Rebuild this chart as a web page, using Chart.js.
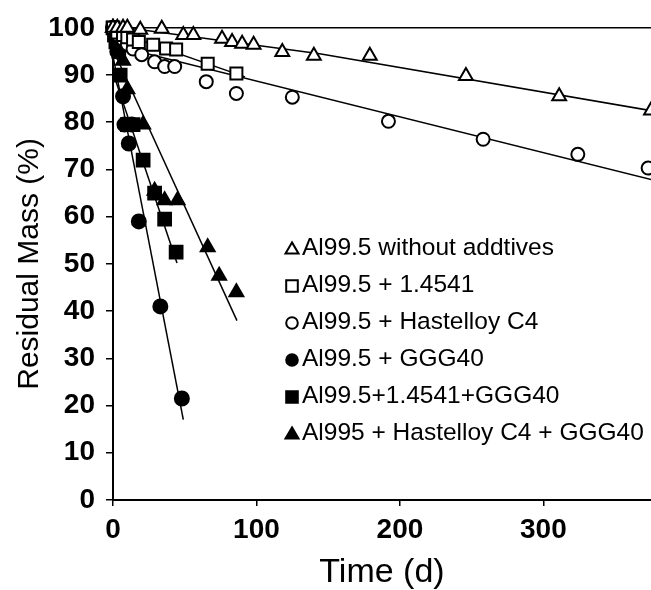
<!DOCTYPE html>
<html>
<head>
<meta charset="utf-8">
<script src="https://cdn.jsdelivr.net/npm/chart.js@4.4.1/dist/chart.umd.min.js"></script>
<style>
  html, body { margin: 0; padding: 0; background: #fff; }
  #wrap { width: 651px; height: 590px; }
</style>
</head>
<body>
<div id="wrap"><canvas id="c" width="651" height="590"></canvas></div>
<script>
// Residual mass of Al99.5 samples over time, with and without additives.
const seriesLabels = [
  'Al99.5 without addtives',
  'Al99.5 + 1.4541',
  'Al99.5 + Hastelloy C4',
  'Al99.5 + GGG40',
  'Al99.5+1.4541+GGG40',
  'Al995 + Hastelloy C4 + GGG40'
];

// measured points: time (d) / residual mass (%)
const noAddT   = [0, 3, 7, 10, 19, 34, 49, 56, 76, 83, 90, 98, 118, 140, 179, 246, 311, 375];
const noAddM   = [100, 100, 100, 100, 99.6, 99.8, 98.5, 98.5, 97.7, 97.0, 96.6, 96.4, 94.9, 94.1, 94.1, 89.8, 85.5, 82.5];

const ss1T     = [0, 3, 7, 10, 14, 18, 28, 37, 44, 66, 86];
const ss1M     = [100, 99, 98.5, 98, 97.5, 97, 96.4, 95.6, 95.4, 92.4, 90.3];

const hastT    = [0, 3, 7, 10, 14, 20, 29, 36, 43, 65, 86, 125, 192, 258, 324, 373];
const hastM    = [100, 98.5, 97.5, 96.5, 95.5, 94.3, 92.8, 91.8, 91.8, 88.6, 86.1, 85.3, 80.2, 76.4, 73.2, 70.3];

const gggT     = [0, 3, 7, 8, 11, 13, 18, 33, 48];
const gggM     = [100, 95, 85.5, 79.5, 75.5, 79.5, 59, 41, 21.5];

const ssGggT   = [0, 1, 2, 4, 5, 10, 14, 21, 29, 36, 44];
const ssGggM   = [100, 98.5, 97, 95, 90, 79.5, 79.5, 72, 65, 59.5, 52.5];

const hastGggT = [0, 2, 4, 7, 10, 21, 29, 36, 45, 66, 74, 86];
const hastGggM = [100, 98, 96, 93, 87, 79.5, 65.5, 63.5, 63.5, 53.5, 47.5, 44];

// fitted trend lines
const fitNoAddT   = [9, 144, 380];   const fitNoAddM   = [100, 94.5, 82.2];
const fitSs1T     = [0, 92];         const fitSs1M     = [99.4, 89.6];
const fitHastT    = [0, 380];        const fitHastM    = [96.3, 67.5];
const fitGggT     = [0, 49];         const fitGggM     = [94, 17];
const fitSsGggT   = [0, 44.6];       const fitSsGggM   = [90.5, 50.2];
const fitHastGggT = [0, 86.4];       const fitHastGggM = [95.4, 38];

// axis ticks
const xTicks = [0, 100, 200, 300];
const yTicks = [0, 10, 20, 30, 40, 50, 60, 70, 80, 90, 100];

const FONT = '"Liberation Sans", Arial, Helvetica, sans-serif';
const pts = (t, m) => t.map((v, i) => ({ x: v, y: m[i] }));

const markerStyles = [
  { style: 'triangle', fill: '#fff', r: 8 },
  { style: 'rect',     fill: '#fff', r: 8.5 },
  { style: 'circle',   fill: '#fff', r: 6.5 },
  { style: 'circle',   fill: '#000', r: 7 },
  { style: 'rect',     fill: '#000', r: 9 },
  { style: 'triangle', fill: '#000', r: 8 }
];
const seriesPoints = [
  pts(noAddT, noAddM), pts(ss1T, ss1M), pts(hastT, hastM),
  pts(gggT, gggM), pts(ssGggT, ssGggM), pts(hastGggT, hastGggM)
];
const fitPoints = [
  pts(fitNoAddT, fitNoAddM), pts(fitSs1T, fitSs1M), pts(fitHastT, fitHastM),
  pts(fitGggT, fitGggM), pts(fitSsGggT, fitSsGggM), pts(fitHastGggT, fitHastGggM)
];

const datasets = [];
seriesLabels.forEach((label, i) => {
  const m = markerStyles[i];
  datasets.push({
    type: 'scatter',
    label,
    data: seriesPoints[i],
    pointStyle: m.style,
    pointRadius: m.r,
    pointHoverRadius: m.r,
    pointBackgroundColor: m.fill,
    pointBorderColor: '#000',
    pointBorderWidth: 2,
    showLine: false,
    clip: false,
    order: 0
  });
});
fitPoints.forEach((data) => {
  datasets.push({
    type: 'line',
    label: '',
    data,
    borderColor: '#000',
    borderWidth: 1.5,
    pointRadius: 0,
    fill: false,
    tension: 0,
    order: 1
  });
});

// small marker painter for the in-plot legend
function paintMarker(ctx, style, fill, x, y, r) {
  ctx.save();
  ctx.lineWidth = 2;
  ctx.strokeStyle = '#000';
  ctx.fillStyle = fill;
  ctx.beginPath();
  if (style === 'circle') {
    ctx.arc(x, y, r, 0, Math.PI * 2);
  } else if (style === 'rect') {
    ctx.rect(x - r, y - r, 2 * r, 2 * r);
  } else {
    const h = r * 1.7;
    ctx.moveTo(x, y - h * 0.6);
    ctx.lineTo(x + r, y + h * 0.4);
    ctx.lineTo(x - r, y + h * 0.4);
    ctx.closePath();
  }
  ctx.fill();
  ctx.stroke();
  ctx.restore();
}

const legendPlugin = {
  id: 'plotLegend',
  afterDatasetsDraw(chart) {
    const ctx = chart.ctx;
    const x0 = 292, y0 = 248, dy = 37;
    ctx.save();
    ctx.font = '24.5px ' + FONT;
    ctx.fillStyle = '#000';
    ctx.textBaseline = 'middle';
    ctx.textAlign = 'left';
    seriesLabels.forEach((label, i) => {
      const m = markerStyles[i];
      const y = y0 + i * dy;
      const r = m.style === 'triangle' ? 6.5 : 5.8;
      paintMarker(ctx, m.style, m.fill, x0, y + 1, r);
      ctx.fillText(label, x0 + 10, y);
    });
    ctx.restore();
  }
};

new Chart(document.getElementById('c'), {
  data: { datasets },
  options: {
    responsive: false,
    animation: false,
    devicePixelRatio: 1,
    layout: { autoPadding: false, padding: { top: 27, right: 0, bottom: 0, left: 0 } },
    plugins: { legend: { display: false }, tooltip: { enabled: false } },
    scales: {
      x: {
        type: 'linear',
        min: 0,
        max: 375,
        afterBuildTicks: (s) => { s.ticks = xTicks.map(v => ({ value: v })); },
        afterFit: (s) => { s.height = 90; s.paddingRight = 0; s.paddingLeft = 0; },
        border: { display: true, color: '#000', width: 2 },
        grid: { drawOnChartArea: false, tickColor: '#000', tickLength: 6, lineWidth: 1.5 },
        ticks: { color: '#000', padding: 7, maxRotation: 0, font: { family: FONT, size: 28, weight: 'bold' } },
        title: { display: true, text: 'Time (d)', color: '#000', padding: { top: 0, bottom: 0 }, font: { family: FONT, size: 34, lineHeight: 1.0 } }
      },
      y: {
        type: 'linear',
        min: 0,
        max: 100,
        afterBuildTicks: (s) => { s.ticks = yTicks.map(v => ({ value: v })); },
        afterFit: (s) => { s.width = 113; },
        border: { display: true, color: '#000', width: 2 },
        grid: {
          drawOnChartArea: true,
          color: (c) => (c.tick && c.tick.value === 100 ? '#000' : 'rgba(0,0,0,0)'),
          tickColor: '#000',
          tickLength: 7,
          lineWidth: 1.5
        },
        ticks: { color: '#000', padding: 11, font: { family: FONT, size: 28, weight: 'bold' } },
        title: { display: true, text: 'Residual Mass (%)', color: '#000', padding: { top: 12, bottom: 0 }, font: { family: FONT, size: 30 } }
      }
    }
  },
  plugins: [legendPlugin]
});
</script>
</body>
</html>
